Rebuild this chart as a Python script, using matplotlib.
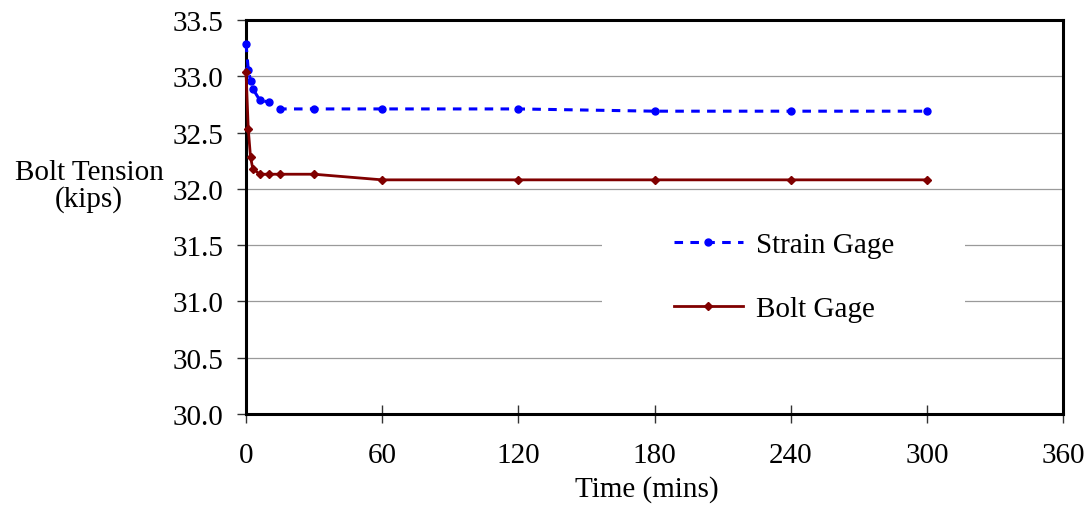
import matplotlib
matplotlib.use("Agg")
import matplotlib.pyplot as plt
from matplotlib.patches import Rectangle

# Data
time_mins = [0, 1, 2, 3, 6, 10, 15, 30, 60, 120, 180, 240, 300]
strain_gage = [33.29, 33.06, 32.96, 32.89, 32.79, 32.77, 32.71, 32.71, 32.71, 32.71, 32.69, 32.69, 32.69]
bolt_gage = [33.04, 32.53, 32.28, 32.18, 32.13, 32.13, 32.13, 32.13, 32.08, 32.08, 32.08, 32.08, 32.08]
x_ticks = [0, 60, 120, 180, 240, 300, 360]
y_ticks = [30.0, 30.5, 31.0, 31.5, 32.0, 32.5, 33.0, 33.5]

plt.rcParams['font.family'] = ['Liberation Serif', 'DejaVu Serif']
plt.rcParams['font.size'] = 21

fig = plt.figure(figsize=(10.9, 5.06), dpi=100)
ax = fig.add_axes([246/1090, 1 - 415/506, 817/1090, 394/506])

ax.set_axisbelow(True)
ax.yaxis.grid(True, color='#9a9a9a', linewidth=0.9)
ax.xaxis.grid(False)

ax.add_patch(Rectangle((0.4357, 0.18), 0.4443, 0.36, transform=ax.transAxes,
                       facecolor='white', edgecolor='none', zorder=1))

ax.plot(time_mins, strain_gage, color='#0000ff', linestyle=(0, (2.8, 2.4)), linewidth=2.2,
        marker='o', markersize=5, label='Strain Gage', clip_on=False, zorder=3)
ax.plot(time_mins, bolt_gage, color='#800000', linestyle='-', linewidth=2.0,
        marker='D', markersize=4, label='Bolt Gage', clip_on=False, zorder=3)

ax.set_xlim(0, 360)
ax.set_ylim(30.0, 33.5)
ax.set_xticks(x_ticks)
ax.set_xticklabels([str(v) for v in x_ticks])
ax.set_yticks(y_ticks)
ax.set_yticklabels([f"{v:.1f}" for v in y_ticks])

for s in ax.spines.values():
    s.set_color('black')
    s.set_linewidth(2.2)

ax.tick_params(axis='x', direction='inout', length=13, width=1, color='#333333', pad=14)
ax.tick_params(axis='y', direction='out', length=6.5, width=1, color='#333333', pad=10)

ax.set_xlabel('Time (mins)')
ax.xaxis.set_label_coords(0.49, -0.155)
ax.set_ylabel('Bolt Tension\n(kips)', rotation=0, ha='center', va='center', linespacing=1.0)
ax.yaxis.set_label_coords(-0.192, 0.579)

leg = ax.legend(loc='center', bbox_to_anchor=(0.6585, 0.348), frameon=False,
                handlelength=2.38, handletextpad=0.45, labelspacing=1.3, borderpad=0)

fig.savefig('out.png', dpi=100)
